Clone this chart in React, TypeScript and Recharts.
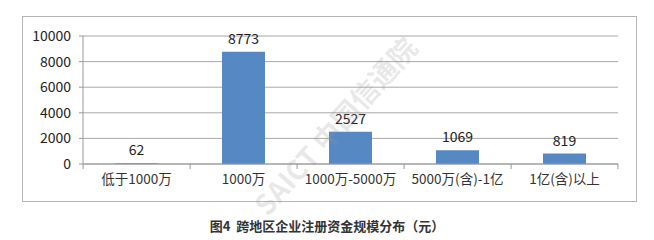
import React from 'react';
import { BarChart, Bar, XAxis, YAxis, CartesianGrid, LabelList } from 'recharts';

const categories = ['低于1000万', '1000万', '1000万-5000万', '5000万(含)-1亿', '1亿(含)以上'];
const counts = [62, 8773, 2527, 1069, 819];
const yTicks = [0, 2000, 4000, 6000, 8000, 10000];

const data = categories.map((name, i) => ({ name, value: counts[i] }));

const FONT = '"Noto Sans CJK SC", "Noto Sans", sans-serif';
const PLOT_W = 534;
const STEP = PLOT_W / categories.length;

const CategoryTick = (props: any) => {
  const { x, y, payload, index } = props;
  const half = STEP / 2;
  return (
    <g>
      <line x1={x - half} y1={y - 8} x2={x - half} y2={y - 3} stroke="#999" />
      {index === categories.length - 1 && (
        <line x1={x + half} y1={y - 8} x2={x + half} y2={y - 3} stroke="#999" />
      )}
      <text x={x} y={y + 6} textAnchor="middle" dominantBaseline="central" fill="#333" fontSize={13.5} fontFamily={FONT}>
        {payload.value}
      </text>
    </g>
  );
};

export default function App() {
  return (
    <div style={{ position: 'absolute', left: 0, top: 0, width: 654, height: 240, background: '#fff', fontFamily: FONT }}>
      <div style={{ position: 'absolute', left: 22, top: 16, width: 613, height: 184, border: '1px solid #b5b5b5' }}>
        <BarChart width={613} height={184} data={data} margin={{ top: 19, right: 18, left: 0, bottom: 0 }} barCategoryGap="30%">
          <CartesianGrid vertical={false} stroke="#a8a8a8" />
          <XAxis dataKey="name" height={37} tick={<CategoryTick />} tickLine={false} axisLine={{ stroke: '#999' }} interval={0} />
          <YAxis
            width={60}
            domain={[0, 10000]}
            ticks={yTicks}
            tickSize={4}
            tickMargin={8}
            axisLine={{ stroke: '#999' }}
            tickLine={{ stroke: '#999' }}
            tick={{ fill: '#222', fontSize: 14, fontFamily: FONT }}
          />
          <Bar dataKey="value" fill="#5689c4" isAnimationActive={false} barSize={43}>
            <LabelList dataKey="value" position="top" offset={8} fill="#222" fontSize={14} fontFamily={FONT} />
          </Bar>
        </BarChart>
      </div>
      <div
        style={{
          position: 'absolute', left: 244, top: 196, transform: 'rotate(-48deg)', transformOrigin: 'left top',
          color: 'rgba(150,150,150,0.22)', fontSize: 28, fontWeight: 'bold', whiteSpace: 'nowrap',
        }}
      >
        SAICT 中国信通院
      </div>
      <div style={{ position: 'absolute', left: 0, width: 654, top: 216, textAlign: 'center', fontSize: 13, fontWeight: 'bold', color: '#333' }}>
        图4&nbsp;&nbsp;跨地区企业注册资金规模分布（元）
      </div>
    </div>
  );
}
